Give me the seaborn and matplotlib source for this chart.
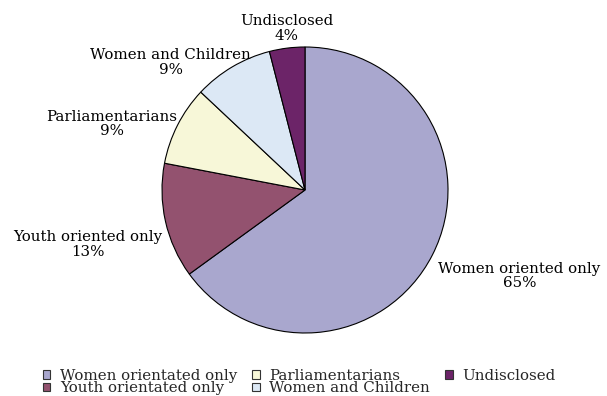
import numpy as np
import matplotlib.pyplot as plt
import seaborn as sns
from matplotlib.patches import Patch

categories = ['Women orientated only', 'Youth orientated only', 'Parliamentarians',
              'Women and Children', 'Undisclosed']
slice_labels = ['Women oriented only', 'Youth oriented only', 'Parliamentarians',
                'Women and Children', 'Undisclosed']
shares = [65, 13, 9, 9, 4]
colors = ['#A9A7CE', '#93526F', '#F7F7D8', '#DCE8F5', '#6C2468']
# where each slice label sits, in pie-radius units from the centre
label_pos = [(1.50, -0.60), (-1.52, -0.38), (-1.35, 0.46), (-0.94, 0.89), (-0.13, 1.13)]

sns.set_theme(style='white')
plt.rcParams['font.family'] = ['DejaVu Serif']

fig = plt.figure(figsize=(6.07, 3.96), dpi=100)
ax = fig.add_axes([0, 0, 1, 1])
wedges, _ = ax.pie(shares, colors=colors, startangle=90, counterclock=False,
                   wedgeprops=dict(edgecolor='black', linewidth=0.8))
ax.set_xlim(-305 / 143, 302 / 143)
ax.set_ylim(-206 / 143, 190 / 143)
ax.set_aspect('auto')
ax.axis('off')

for lab, val, (x, y) in zip(slice_labels, shares, label_pos):
    ax.text(x, y, f'{lab}\n{val}%', ha='center', va='center', fontsize=10.8,
            linespacing=1.05, color='black')

handles = [Patch(facecolor=c, edgecolor='#333333', linewidth=0.8) for c in colors]
fig.legend(handles, categories, loc='upper left', bbox_to_anchor=(0.058, 0.088),
           ncol=3, frameon=False, fontsize=10.8, handlelength=0.5, handleheight=0.5,
           handletextpad=0.65, columnspacing=1.0, labelspacing=-0.1, borderpad=0)

fig.savefig('out.png', dpi=100)
